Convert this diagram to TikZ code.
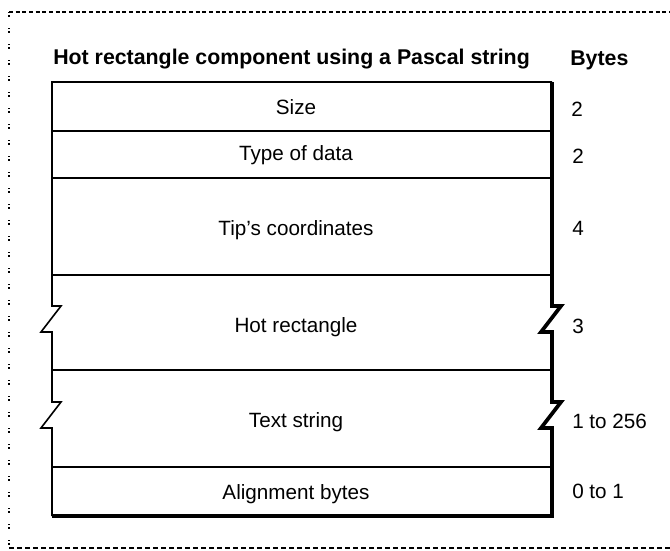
\documentclass[tikz,border=0pt]{standalone}
\usepackage{fontspec}
\setmainfont{Liberation Sans}
\begin{document}
\begin{tikzpicture}[x=0.75pt,y=-0.75pt,
  thin/.style={line width=1.2pt, line join=miter},
  heavy/.style={line width=2.8pt, line join=miter},
  field/.style={font=\fontsize{15.5}{18}\selectfont, anchor=base, inner sep=0pt},
  count/.style={font=\fontsize{15.5}{18}\selectfont, anchor=base west, inner sep=0pt},
  head/.style={font=\bfseries\fontsize{16}{19}\selectfont, anchor=base west, inner sep=0pt}]
\useasboundingbox (0,0) rectangle (670,550);

% outer frame
\draw[line width=1.1pt, dash pattern=on 3pt off 2pt] (9,12) -- (670,12);
\draw[line width=1.8pt, dash pattern=on 3.6pt off 2.4pt] (9,548) -- (670,548);
\draw[line width=1.5pt, dash pattern=on 1pt off 1.5pt on 1pt off 8.5pt] (9,12) -- (9,548);

% headings
\node[head] (title) at (53,64) {Hot rectangle component using a Pascal string};
\node[head] (bytes) at (570,65) {Bytes};

% record outline, with break marks on the variable-length fields
\draw[thin] (552,82) -- (52,82)
  -- (52,306) -- (61,306) -- (41,332) -- (52,332)
  -- (52,402) -- (61,402) -- (41,428) -- (52,428)
  -- (52,516);
\draw[heavy] (52,516) -- (552,516)
  -- (552,428) -- (541,428) -- (561,402) -- (552,402)
  -- (552,332) -- (541,332) -- (561,306) -- (552,306)
  -- (552,82);

% field separators
\foreach \y in {131,178,275,370,467}
  \draw[thin] (52,\y) -- (552,\y);

% field names
\node[field] (f1) at (296,114)   {Size};
\node[field] (f2) at (296,160.5) {Type of data};
\node[field] (f3) at (296,235.5) {Tip's coordinates};
\node[field] (f4) at (296,332.5) {Hot rectangle};
\node[field] (f5) at (296,427.5) {Text string};
\node[field] (f6) at (296,499)   {Alignment bytes};

% byte counts
\node[count] (b1) at (571,116) {2};
\node[count] (b2) at (572,163) {2};
\node[count] (b3) at (572,235) {4};
\node[count] (b4) at (572,333) {3};
\node[count] (b5) at (572,428) {1 to 256};
\node[count] (b6) at (572,498) {0 to 1};
\end{tikzpicture}
\end{document}
